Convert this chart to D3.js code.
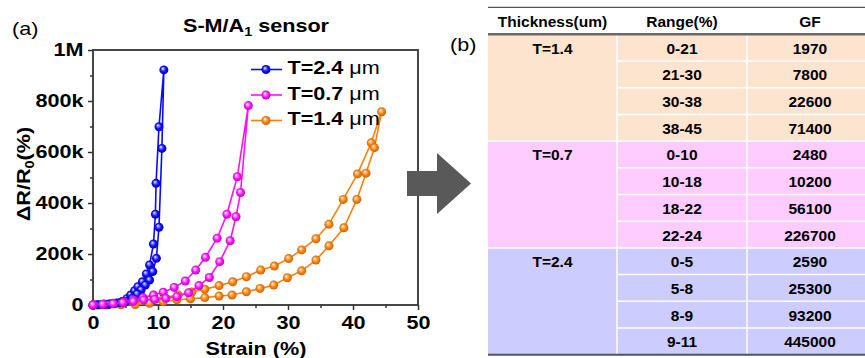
<!DOCTYPE html>
<html>
<head>
<meta charset="utf-8">
<script src="https://cdn.jsdelivr.net/npm/d3@7"></script>
<style>
  html, body { margin: 0; padding: 0; background: #fff; }
  svg { display: block; }
  text { font-family: "Liberation Sans", Arial, sans-serif; fill: #000; }
</style>
</head>
<body>
<svg id="chart" width="865" height="358"></svg>
<script>
// ---- Panel (a): resistance change vs. strain, loading + unloading loop ----
const strainT24 = [0,0.9,1.8,2.7,3.6,4.5,5.2,5.8,6.4,6.9,7.6,8.2,8.7,9.3,9.6,9.7,10.15,10.9,
                   10.6,10.15,9.75,9.2,8.7,8.05,7.4,6.8,6.05,5.1,4.2,3.3,2.4,1.5,0.6];
const dRT24     = [0,1,3,5,8,14,25,39,56,72,91,122,157,239,356,477,699,922,
                   614,305,183,131,98,78,59,43,26,14,9,6,3,2,1].map(v => v * 1000);

const strainT07 = [0,1.6,3.1,4.7,6.2,7.7,9.3,10.8,12.5,14.2,15.8,17.3,19.1,20.6,22.2,23.9,
                   22.7,22.0,21.1,19.5,17.9,16.3,14.7,12.9,11.2,9.5,7.8,6.2,4.6,3.1,1.5,0];
const dRT07     = [0,4,7,12,20,29,39,50,69,94,137,187,262,356,503,782,
                   441,346,252,170,108,76,48,33,26,22,20,14,9,5,2,0].map(v => v * 1000);

const strainT14 = [0,2.2,4.3,6.5,8.7,10.9,13.1,15.2,17.2,19.4,21.5,23.6,25.8,27.9,30.1,32.1,34.3,36.3,38.5,40.7,42.8,44.4,
                   43.3,42.0,40.6,38.6,36.3,34.3,32.1,29.9,27.8,25.7,23.6,21.4,19.4,17.2,15.0,12.9,10.8,8.7,6.5,4.3,2.2,0];
const dRT14     = [0,3,8,14,21,29,39,51,62,76,91,111,137,153,182,216,260,317,414,514,636,758,
                   617,517,414,303,232,176,134,107,78,65,52,39,35,29,24,20,13,7,2,1,0,0].map(v => v * 1000);

const seriesNames = ["T=2.4", "T=0.7", "T=1.4"];
const xTicks = [0, 10, 20, 30, 40, 50];
const xMinorTicks = [5, 15, 25, 35, 45];
const yTicks = [0, 200000, 400000, 600000, 800000, 1000000];
const yTickLabels = ["0", "200k", "400k", "600k", "800k", "1M"];
const yMinorTicks = [100000, 300000, 500000, 700000, 900000];

// ---- Panel (b): gauge factor table ----
const thicknessLabels = ["T=1.4", "T=0.7", "T=2.4"];
const rangeLabels = [["0-21","21-30","30-38","38-45"],
                     ["0-10","10-18","18-22","22-24"],
                     ["0-5","5-8","8-9","9-11"]];
const gfValues = [[1970, 7800, 22600, 71400],
                  [2480, 10200, 56100, 226700],
                  [2590, 25300, 93200, 445000]];
const tableHeaders = ["Thickness(um)", "Range(%)", "GF"];

const svg = d3.select("#chart");
const defs = svg.append("defs");
const SX = 1.2; // horizontal text stretch used for the plot lettering

// plot frame
const plot = { left: 93, right: 418, top: 50, bottom: 305 };
const x = d3.scaleLinear().domain([0, 50]).range([plot.left, plot.right]);
const y = d3.scaleLinear().domain([0, 1000000]).range([plot.bottom, plot.top]);

// sphere-style marker gradients
const palette = [
  { id: "gBlue", line: "#0a0aff", light: "#8c8cff", base: "#1010ff", dark: "#0000a8" },
  { id: "gMag",  line: "#ff10ff", light: "#ff9cff", base: "#ff18ff", dark: "#b000b0" },
  { id: "gOra",  line: "#fb800c", light: "#ffc488", base: "#fb840e", dark: "#c25a00" }
];
palette.forEach(p => {
  const g = defs.append("radialGradient").attr("id", p.id)
    .attr("cx", "50%").attr("cy", "50%").attr("r", "55%")
    .attr("fx", "36%").attr("fy", "32%");
  g.append("stop").attr("offset", "0%").attr("stop-color", "#ffffff");
  g.append("stop").attr("offset", "22%").attr("stop-color", p.light);
  g.append("stop").attr("offset", "55%").attr("stop-color", p.base);
  g.append("stop").attr("offset", "100%").attr("stop-color", p.dark);
});

const series = [
  { xs: strainT24, ys: dRT24, c: palette[0] },
  { xs: strainT07, ys: dRT07, c: palette[1] },
  { xs: strainT14, ys: dRT14, c: palette[2] }
];

// axes
const axisColor = "#333";
const gx = svg.append("g").attr("transform", `translate(0,${plot.bottom})`)
  .call(d3.axisBottom(x).tickValues(xTicks).tickSize(5).tickFormat(d => d));
const gxm = svg.append("g").attr("transform", `translate(0,${plot.bottom})`)
  .call(d3.axisBottom(x).tickValues(xMinorTicks).tickSize(3).tickFormat(""));
const gy = svg.append("g").attr("transform", `translate(${plot.left},0)`)
  .call(d3.axisLeft(y).tickValues(yTicks).tickSize(5).tickFormat((d, i) => yTickLabels[i]));
const gym = svg.append("g").attr("transform", `translate(${plot.left},0)`)
  .call(d3.axisLeft(y).tickValues(yMinorTicks).tickSize(3).tickFormat(""));
[gx, gxm, gy, gym].forEach(g => {
  g.select(".domain").remove();
  g.selectAll("line").attr("stroke", axisColor).attr("stroke-width", 1.5);
});
gx.selectAll("text")
  .attr("y", 24.5).attr("dy", null)
  .attr("transform", `scale(${SX},1)`)
  .style("font-size", "18px").style("font-weight", "bold").attr("fill", "#000");
gy.selectAll("text")
  .attr("x", -9.5 / SX)
  .attr("transform", `scale(${SX},1)`)
  .style("font-size", "18px").style("font-weight", "bold").attr("fill", "#000");

// frame
svg.append("rect")
  .attr("x", plot.left).attr("y", plot.top)
  .attr("width", plot.right - plot.left).attr("height", plot.bottom - plot.top)
  .attr("fill", "none").attr("stroke", axisColor).attr("stroke-width", 1.8);

// curves + markers (orange underneath, magenta on top)
const line = d3.line().x(d => x(d[0])).y(d => y(d[1]));
[2, 0, 1].forEach(i => {
  const s = series[i];
  const pts = s.xs.map((v, k) => [v, s.ys[k]]);
  svg.append("path").datum(pts)
    .attr("d", line).attr("fill", "none")
    .attr("stroke", s.c.line).attr("stroke-width", 1.6).attr("stroke-linejoin", "round");
  svg.append("g").selectAll("circle").data(pts).join("circle")
    .attr("cx", d => x(d[0])).attr("cy", d => y(d[1])).attr("r", 4.5)
    .attr("fill", `url(#${s.c.id})`);
});

// legend
const legY = [69.5, 95, 120.5];
seriesNames.forEach((name, i) => {
  const c = series[i].c;
  const g = svg.append("g");
  g.append("line").attr("x1", 251).attr("x2", 282).attr("y1", legY[i]).attr("y2", legY[i])
    .attr("stroke", c.line).attr("stroke-width", 1.6);
  g.append("circle").attr("cx", 266).attr("cy", legY[i]).attr("r", 4.5).attr("fill", `url(#${c.id})`);
  const t = g.append("text")
    .attr("transform", `translate(287.5,${legY[i] + 4.5}) scale(${SX},1)`)
    .style("font-size", "18px");
  t.append("tspan").style("font-weight", "bold").text(name + " ");
  t.append("tspan").style("font-weight", "normal").text("\u03bcm");
});

// title
const title = svg.append("text")
  .attr("transform", `translate(256,31.5) scale(${SX},1)`)
  .attr("text-anchor", "middle").style("font-size", "18px").style("font-weight", "bold");
title.append("tspan").text("S-M/A");
title.append("tspan").attr("dy", 4).style("font-size", "12px").text("1");
title.append("tspan").attr("dy", -4).text(" sensor");

// axis titles
svg.append("text")
  .attr("transform", `translate(256,354.5) scale(${SX},1)`)
  .attr("text-anchor", "middle").style("font-size", "18px").style("font-weight", "bold")
  .text("Strain (%)");
const yl = svg.append("text")
  .attr("transform", `translate(29.5,174) rotate(-90) scale(${SX},1)`)
  .attr("text-anchor", "middle").style("font-size", "18px").style("font-weight", "bold");
yl.append("tspan").text("\u0394R/R");
yl.append("tspan").attr("dy", 4).style("font-size", "12px").text("0");
yl.append("tspan").attr("dy", -4).text("(%)");

// panel tags
svg.append("text").attr("transform", `translate(12,35) scale(${SX},1)`)
  .style("font-size", "18px").text("(a)");
svg.append("text").attr("transform", `translate(450,51) scale(${SX},1)`)
  .style("font-size", "18px").text("(b)");

// block arrow between panels
const arrow = { x0: 407, xNeck: 437, xTip: 471, cy: 183.5, shaftH: 25, headH: 61 };
svg.append("polygon")
  .attr("points", [
    [arrow.x0, arrow.cy - arrow.shaftH / 2],
    [arrow.xNeck, arrow.cy - arrow.shaftH / 2],
    [arrow.xNeck, arrow.cy - arrow.headH / 2],
    [arrow.xTip, arrow.cy],
    [arrow.xNeck, arrow.cy + arrow.headH / 2],
    [arrow.xNeck, arrow.cy + arrow.shaftH / 2],
    [arrow.x0, arrow.cy + arrow.shaftH / 2]
  ].map(p => p.join(",")).join(" "))
  .attr("fill", "#595959");

// ---- table ----
const colEdges = [488, 617, 747, 873];
const colCenters = [552.5, 682, 810];
const headTop = 7.3, bodyTop = 34.3, rowH = 26.7;
const groupFill = ["#fde4cf", "#ffccff", "#ccccff"];
const tb = svg.append("g");
const rowY = r => bodyTop + r * rowH;

groupFill.forEach((f, gi) => {
  tb.append("rect").attr("x", colEdges[0]).attr("y", rowY(gi * 4))
    .attr("width", colEdges[3] - colEdges[0]).attr("height", rowH * 4).attr("fill", f);
});
// white cell separators
for (let r = 1; r < 12; r++) {
  const x1 = r % 4 === 0 ? colEdges[0] : colEdges[1];
  tb.append("line").attr("x1", x1).attr("x2", colEdges[3]).attr("y1", rowY(r)).attr("y2", rowY(r))
    .attr("stroke", "#fff").attr("stroke-width", 1.5);
}
[1, 2].forEach(c => {
  tb.append("line").attr("x1", colEdges[c]).attr("x2", colEdges[c]).attr("y1", bodyTop).attr("y2", rowY(12))
    .attr("stroke", "#fff").attr("stroke-width", 1.5);
});
// rules
tb.append("line").attr("x1", colEdges[0]).attr("x2", colEdges[3]).attr("y1", headTop).attr("y2", headTop)
  .attr("stroke", "#555").attr("stroke-width", 1.3);
tb.append("line").attr("x1", colEdges[0]).attr("x2", colEdges[3]).attr("y1", bodyTop).attr("y2", bodyTop)
  .attr("stroke", "#6a6a6a").attr("stroke-width", 2.5);
tb.append("line").attr("x1", colEdges[0]).attr("x2", colEdges[3]).attr("y1", rowY(12)).attr("y2", rowY(12))
  .attr("stroke", "#555").attr("stroke-width", 2);

const cellStyle = t => t.attr("text-anchor", "middle").style("font-size", "15.5px").style("font-weight", "bold");
tableHeaders.forEach((h, c) => {
  cellStyle(tb.append("text").attr("x", colCenters[c]).attr("y", 27)).text(h);
});
thicknessLabels.forEach((lab, gi) => {
  cellStyle(tb.append("text").attr("x", colCenters[0]).attr("y", rowY(gi * 4) + rowH / 2 + 6)).text(lab);
  rangeLabels[gi].forEach((rl, k) => {
    const yy = rowY(gi * 4 + k) + rowH / 2 + 6;
    cellStyle(tb.append("text").attr("x", colCenters[1]).attr("y", yy)).text(rl);
    cellStyle(tb.append("text").attr("x", colCenters[2]).attr("y", yy)).text(gfValues[gi][k]);
  });
});
</script>
</body>
</html>
